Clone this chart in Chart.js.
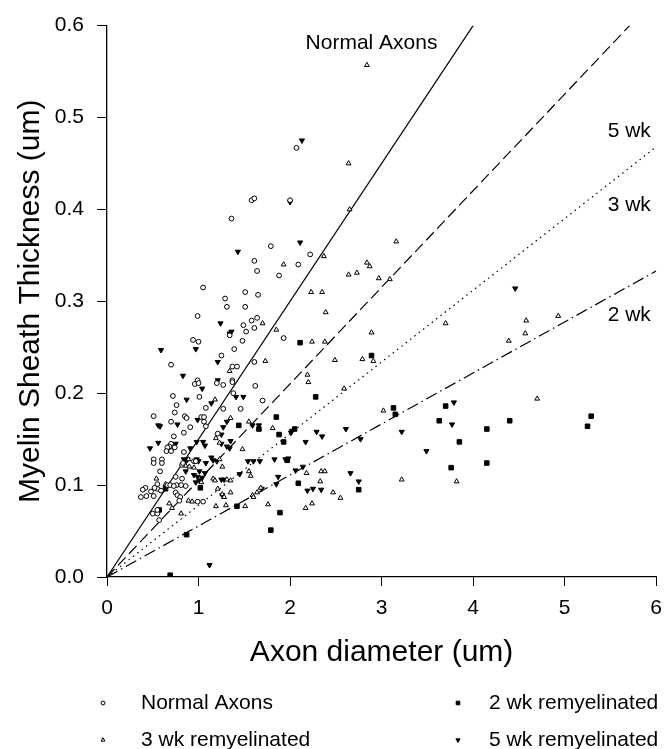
<!DOCTYPE html>
<html>
<head>
<meta charset="utf-8">
<script src="https://cdn.jsdelivr.net/npm/chart.js@4.4.0/dist/chart.umd.min.js"></script>
<style>
  html, body { margin: 0; padding: 0; background: #fff; }
</style>
</head>
<body>
<canvas id="chart" width="672" height="749"></canvas>
<script>
// axis ticks
const xTicks = [0, 1, 2, 3, 4, 5, 6];
const xTickLabels = ["0", "1", "2", "3", "4", "5", "6"];
const yTicks = [0, 0.1, 0.2, 0.3, 0.4, 0.5, 0.6];
const yTickLabels = ["0.0", "0.1", "0.2", "0.3", "0.4", "0.5", "0.6"];

// [axon diameter, sheath thickness]
const normalAxons = [
  [1.58,0.410],[1.61,0.412],[2.00,0.410],[1.36,0.390],[1.79,0.360],[1.61,0.344],[1.64,0.333],[1.88,0.328],
  [1.05,0.315],[1.51,0.310],[1.65,0.307],[1.29,0.303],[1.31,0.294],[1.51,0.294],[0.99,0.284],[1.64,0.282],
  [1.58,0.279],[1.49,0.274],[1.61,0.271],[1.34,0.263],[1.52,0.267],[1.48,0.257],[1.93,0.260],[0.94,0.258],
  [1.00,0.256],[1.39,0.248],[1.25,0.241],[1.61,0.234],[0.70,0.231],[1.37,0.229],[1.42,0.229],[0.99,0.214],
  [1.37,0.214],[2.07,0.467],[2.22,0.351],[2.09,0.340],
  [0.96,0.210],[1.00,0.211],[1.20,0.211],[1.27,0.209],[1.37,0.212],[1.62,0.208],[0.72,0.197],[1.01,0.196],
  [1.38,0.200],[0.76,0.187],[1.70,0.192],[1.08,0.184],[1.27,0.183],[1.46,0.183],[0.74,0.179],[0.51,0.175],
  [0.85,0.175],[0.87,0.173],[1.03,0.174],[1.06,0.174],[0.70,0.169],[1.06,0.169],[1.08,0.164],[0.91,0.163],
  [0.84,0.157],[1.21,0.156],[0.73,0.153],[0.70,0.145],[0.68,0.142],[0.66,0.141],[0.65,0.137],[0.70,0.137],
  [0.74,0.141],[0.84,0.136],[0.51,0.128],[0.60,0.128],[0.51,0.124],[0.60,0.124],[0.95,0.126],[0.97,0.126],
  [0.82,0.122],[0.83,0.124],[0.58,0.115],[0.75,0.109],[0.82,0.107],[0.66,0.100],[0.69,0.100],[0.76,0.100],
  [0.81,0.100],[0.86,0.099],[0.73,0.099],[0.55,0.101],[0.42,0.097],[0.39,0.095],[0.37,0.087],[0.43,0.088],
  [0.51,0.088],[0.48,0.093],[0.55,0.096],[0.59,0.094],[0.52,0.097],[0.75,0.092],[0.77,0.089],[0.80,0.087],
  [0.79,0.083],[0.99,0.082],[1.05,0.082],[0.50,0.069],[0.55,0.069],[0.57,0.062],[0.55,0.073]
];

const wk2 = [
  [2.11,0.255],[2.89,0.241],[2.28,0.196],[3.13,0.184],[3.15,0.177],[3.70,0.186],[3.63,0.170],[3.85,0.147],
  [3.76,0.119],[2.05,0.161],[2.09,0.102],[2.75,0.095],[4.40,0.170],[4.15,0.161],[5.29,0.175],[5.25,0.164],
  [4.15,0.124],[0.69,0.002],[1.85,0.174],[1.44,0.165],[1.66,0.161],[1.88,0.155],[1.93,0.147],[1.97,0.127],
  [1.02,0.097],[0.64,0.096],[1.42,0.077],[0.57,0.073],[1.89,0.070],[1.79,0.051],[0.87,0.046]
];

const wk3 = [
  [2.84,0.557],[2.64,0.450],[2.65,0.400],[3.16,0.365],[2.37,0.349],[2.84,0.342],[2.87,0.338],[1.93,0.340],
  [2.64,0.329],[2.73,0.331],[2.97,0.325],[3.09,0.324],[2.23,0.310],[2.35,0.310],[2.39,0.288],[1.70,0.276],
  [1.85,0.269],[3.70,0.276],[2.89,0.266],[2.24,0.256],[2.38,0.256],[2.49,0.236],[2.79,0.237],[2.91,0.235],
  [1.73,0.235],[1.34,0.224],[2.19,0.220],[2.20,0.212],[2.59,0.205],[3.02,0.181],[4.58,0.279],[4.93,0.284],
  [4.57,0.265],[4.39,0.257],[4.70,0.194],[3.22,0.106],[3.82,0.104],[2.18,0.113],[2.34,0.115],[2.38,0.115],
  [2.33,0.104],[2.47,0.092],[2.55,0.086],[2.24,0.080],[2.17,0.075],
  [1.18,0.193],[1.35,0.173],[1.55,0.169],[1.81,0.162],[1.19,0.151],[1.23,0.146],[1.48,0.139],[0.89,0.128],
  [0.86,0.121],[1.23,0.128],[0.90,0.120],[0.95,0.119],[1.26,0.120],[1.55,0.115],[1.57,0.110],[0.54,0.107],
  [1.16,0.107],[1.18,0.105],[1.31,0.106],[1.35,0.105],[0.64,0.101],[1.03,0.103],[1.21,0.096],[1.35,0.092],
  [1.26,0.090],[1.28,0.087],[1.68,0.097],[1.64,0.092],[1.59,0.089],[1.60,0.087],[0.68,0.080],[0.71,0.075],
  [0.89,0.083],[0.93,0.082],[1.19,0.077],[1.30,0.078],[1.51,0.077],[1.76,0.079],[0.81,0.069]
];

const wk5 = [
  [2.00,0.408],[2.13,0.475],[1.43,0.354],[2.11,0.364],[1.24,0.276],[1.36,0.267],[1.34,0.265],[0.59,0.247],
  [0.97,0.248],[1.21,0.234],[0.83,0.219],[1.21,0.214],[4.46,0.314],[3.79,0.190],[3.77,0.166],[3.49,0.137],
  [2.01,0.157],[2.29,0.158],[2.35,0.153],[2.61,0.161],[2.77,0.150],[3.22,0.158],[2.17,0.147],[1.98,0.129],
  [2.14,0.120],[2.06,0.116],[2.66,0.113],[2.75,0.104],[2.19,0.094],[2.25,0.096],[2.34,0.095],[1.12,0.013],
  [1.04,0.205],[1.41,0.196],[1.49,0.196],[0.87,0.193],[1.14,0.189],[0.99,0.171],[0.77,0.166],[1.31,0.169],
  [1.59,0.165],[1.66,0.165],[1.27,0.163],[0.56,0.165],[0.58,0.164],[2.02,0.159],[1.25,0.155],[0.56,0.146],
  [0.47,0.140],[0.75,0.145],[0.98,0.147],[1.05,0.147],[1.07,0.143],[1.25,0.145],[1.31,0.142],[1.34,0.140],
  [1.35,0.148],[0.91,0.140],[0.84,0.128],[0.88,0.128],[0.86,0.126],[0.98,0.128],[1.00,0.126],[1.08,0.124],
  [1.14,0.130],[1.16,0.127],[1.20,0.126],[1.54,0.126],[1.60,0.126],[1.67,0.126],[1.83,0.128],[1.95,0.128],
  [1.45,0.112],[0.86,0.115],[1.01,0.115],[1.07,0.113],[0.95,0.111],[0.99,0.109],[1.04,0.108],[1.87,0.109],
  [1.25,0.106],[1.28,0.106],[1.85,0.101],[0.97,0.103],[1.01,0.105],[1.26,0.089],[1.69,0.096]
];

// fitted lines through the origin, end points where they leave the plot
const normalFit = [[0, 0], [4.0, 0.6]];
const wk5Fit = [[0, 0], [5.71, 0.6]];
const wk3Fit = [[0, 0], [6, 0.468]];
const wk2Fit = [[0, 0], [6, 0.333]];

// line labels inside the plot
const lineLabels = ["Normal Axons", "5 wk", "3 wk", "2 wk"];
const lineLabelX = [2.89, 5.47, 5.47, 5.47];
const lineLabelY = [0.581, 0.485, 0.405, 0.285];

const FONT = "'Liberation Sans', Arial, Helvetica, sans-serif";
const pts = (arr) => arr.map(([x, y]) => ({ x, y }));

const fitLine = (data, dash) => ({
  data: pts(data),
  showLine: true,
  borderColor: "#000",
  borderWidth: 1.2,
  borderDash: dash,
  pointRadius: 0,
  fill: false,
  order: 5,
});

const markers = {
  normal: { pointStyle: "circle", radius: 2.4, rotation: 0, fill: "#fff" },
  wk2: { pointStyle: "rect", radius: 3.2, rotation: 0, fill: "#000" },
  wk3: { pointStyle: "triangle", radius: 2.8, rotation: 0, fill: "#fff" },
  wk5: { pointStyle: "triangle", radius: 3.0, rotation: 180, fill: "#000" },
};

const scatter = (label, data, m) => ({
  label,
  data: pts(data),
  showLine: false,
  pointStyle: m.pointStyle,
  rotation: m.rotation,
  pointRadius: m.radius,
  pointBackgroundColor: m.fill,
  pointBorderColor: "#000",
  pointBorderWidth: 1,
  order: 1,
});

const legendItems = [
  { text: "Normal Axons", m: markers.normal, col: 0, row: 0 },
  { text: "2 wk remyelinated", m: markers.wk2, col: 1, row: 0 },
  { text: "3 wk remyelinated", m: markers.wk3, col: 0, row: 1 },
  { text: "5 wk remyelinated", m: markers.wk5, col: 1, row: 1 },
];

const annotate = {
  id: "annotate",
  afterDraw(chart) {
    const { ctx, scales } = chart;
    ctx.save();
    ctx.fillStyle = "#000";
    ctx.font = `21px ${FONT}`;
    ctx.textBaseline = "middle";
    lineLabels.forEach((t, i) => {
      ctx.textAlign = i === 0 ? "center" : "left";
      ctx.fillText(t, scales.x.getPixelForValue(lineLabelX[i]), scales.y.getPixelForValue(lineLabelY[i]));
    });

    // legend, two columns below the axis title
    const markX = [103, 458], textX = [141, 489], rowY = [703, 740];
    legendItems.forEach((it) => {
      ctx.fillStyle = it.m.fill;
      ctx.strokeStyle = "#000";
      ctx.lineWidth = 1;
      Chart.helpers.drawPoint(ctx, {
        pointStyle: it.m.pointStyle,
        rotation: it.m.rotation,
        radius: it.m.radius * 0.8,
        borderWidth: 1,
      }, markX[it.col], rowY[it.row]);
      ctx.fillStyle = "#000";
      ctx.textAlign = "left";
      ctx.fillText(it.text, textX[it.col], rowY[it.row]);
    });
    ctx.restore();
  },
};

new Chart(document.getElementById("chart"), {
  type: "scatter",
  data: {
    datasets: [
      fitLine(normalFit, []),
      fitLine(wk5Fit, [11, 5]),
      fitLine(wk3Fit, [1.5, 4]),
      fitLine(wk2Fit, [12, 4, 1.5, 4]),
      scatter("Normal Axons", normalAxons, markers.normal),
      scatter("2 wk remyelinated", wk2, markers.wk2),
      scatter("3 wk remyelinated", wk3, markers.wk3),
      scatter("5 wk remyelinated", wk5, markers.wk5),
    ],
  },
  options: {
    responsive: false,
    animation: false,
    devicePixelRatio: 1,
    layout: { padding: { top: 21, right: 5, left: 0, bottom: 0 } },
    plugins: { legend: { display: false }, tooltip: { enabled: false } },
    scales: {
      x: {
        type: "linear",
        position: "bottom",
        min: 0,
        max: 6,
        afterBuildTicks: (s) => { s.ticks = xTicks.map((v) => ({ value: v })); },
        afterFit: (s) => { s.height = 172; },
        ticks: {
          color: "#000",
          padding: 10,
          font: { family: FONT, size: 21 },
          maxRotation: 0,
          callback: (v, i) => xTickLabels[i],
        },
        grid: { display: true, drawOnChartArea: false, drawTicks: true, tickLength: 9, color: "#000", lineWidth: 1 },
        border: { display: true, color: "#000", width: 1.3 },
        title: {
          display: true,
          text: "Axon diameter (um)",
          color: "#000",
          font: { family: FONT, size: 30 },
          padding: { top: 0, bottom: 78 },
        },
      },
      y: {
        type: "linear",
        min: 0,
        max: 0.6,
        afterBuildTicks: (s) => { s.ticks = yTicks.map((v) => ({ value: v })); },
        afterFit: (s) => { s.width = 107; },
        ticks: {
          color: "#000",
          padding: 13,
          font: { family: FONT, size: 21 },
          callback: (v, i) => yTickLabels[i],
        },
        grid: { display: true, drawOnChartArea: false, drawTicks: true, tickLength: 10, color: "#000", lineWidth: 1 },
        border: { display: true, color: "#000", width: 1.3 },
        title: {
          display: true,
          text: "Myelin Sheath Thickness (um)",
          color: "#000",
          font: { family: FONT, size: 30 },
          padding: { top: 13, bottom: 0 },
        },
      },
    },
  },
  plugins: [annotate],
});
</script>
</body>
</html>
